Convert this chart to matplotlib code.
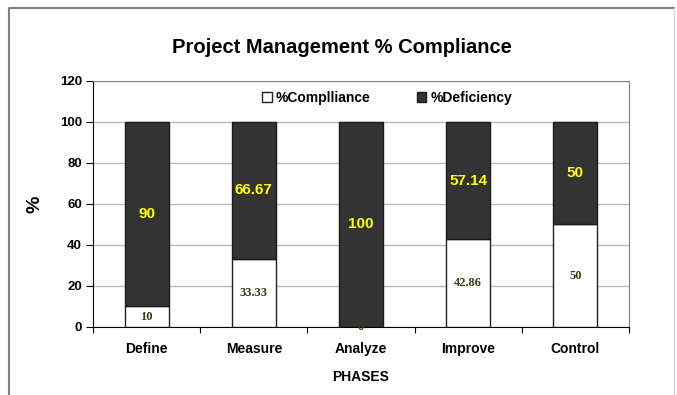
import matplotlib.pyplot as plt
from matplotlib.lines import Line2D
import numpy as np

phases = ['Define', 'Measure', 'Analyze', 'Improve', 'Control']
compliance = [10, 33.33, 0, 42.86, 50]
deficiency = [90, 66.67, 100, 57.14, 50]
compliance_text = ['10', '33.33', '0', '42.86', '50']
deficiency_text = ['90', '66.67', '100', '57.14', '50']

plt.rcParams['font.family'] = ['Liberation Sans', 'DejaVu Sans']
plt.rcParams['font.weight'] = 'bold'

fig = plt.figure(figsize=(6.77, 3.95), dpi=100)
ax = fig.add_axes([0.1374, 0.1722, 0.7917, 0.6228])

# outer chart frame (runs off the bottom of the image)
fl, fr, ft = 9 / 677, 674 / 677, 1 - 8 / 395
fig.add_artist(Line2D([fl, fl, fr], [-0.2, ft, ft],
                      transform=fig.transFigure, color='#808080',
                      linewidth=1.5))
fig.add_artist(Line2D([fr, fr], [ft, -0.2], transform=fig.transFigure,
                      color='#d8d8d8', linewidth=1))

x = np.arange(len(phases))
w = 0.41
ax.bar(x, compliance, w, color='white', edgecolor='#222222', linewidth=1,
       label='%Complliance', zorder=3)
ax.bar(x, deficiency, w, bottom=compliance, color='#333333',
       edgecolor='#1a1a1a', linewidth=1, label='%Deficiency', zorder=3)

for i in range(len(phases)):
    ax.text(x[i], compliance[i] / 2, compliance_text[i], ha='center',
            va='center', fontsize=9, fontweight='bold',
            family='Liberation Serif', color='#3a3a10', zorder=4)
    ax.text(x[i], compliance[i] + deficiency[i] / 2, deficiency_text[i],
            ha='center', va='center', fontsize=11, fontweight='bold',
            color='#ffff00', zorder=4)

ax.set_xlim(-0.5, len(phases) - 0.5)
ax.set_ylim(0, 120)
ax.set_yticks(range(0, 121, 20))
ax.set_xticks(np.arange(-0.5, len(phases), 1))
ax.set_xticklabels([])
ax.set_xticks(x, minor=True)
ax.set_xticklabels(phases, minor=True, fontsize=10, fontweight='bold')
ax.tick_params(axis='x', which='minor', length=0, pad=11)
ax.tick_params(axis='x', which='major', length=4, direction='out')
ax.tick_params(axis='y', length=5, direction='out', labelsize=9.5, pad=3)

ax.grid(axis='y', color='#b8b8b8', linewidth=1, zorder=0)
ax.set_axisbelow(True)
ax.spines['top'].set_color('#808080')
ax.spines['right'].set_color('#808080')

ax.set_xlabel('PHASES', fontsize=10, fontweight='bold', labelpad=10)
ax.set_ylabel('%', fontsize=14, fontweight='bold', labelpad=12)
fig.text(0.505, 0.88, 'Project Management % Compliance', ha='center',
         va='center', fontsize=14.5, fontweight='bold')

ax.legend(loc='center', bbox_to_anchor=(0.549, 0.93), ncol=2, frameon=False,
          fontsize=10, handlelength=0.7, handleheight=0.7, handletextpad=0.3,
          columnspacing=3.3)

plt.savefig('out.png', dpi=100)
